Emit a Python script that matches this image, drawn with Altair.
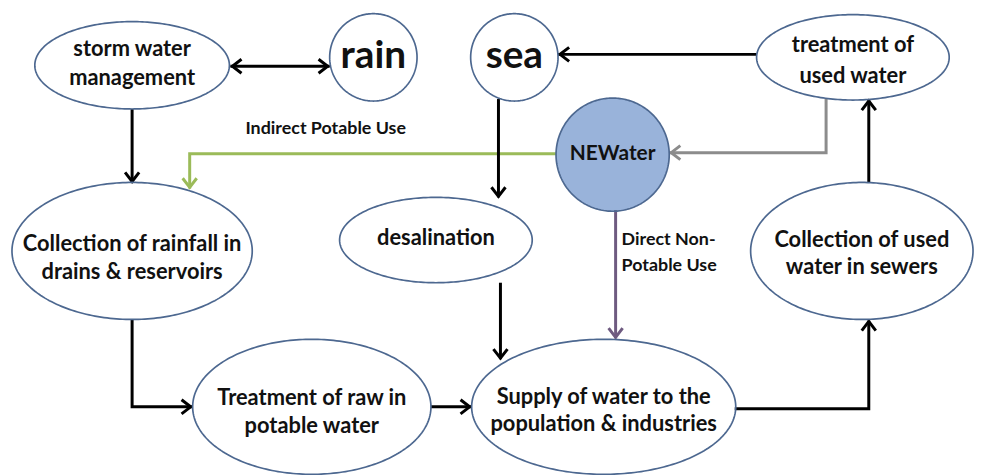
import altair as alt
import pandas as pd
import numpy as np

# ---- nodes (centre x, centre y, radius x, radius y) in picture pixels ----
node_names = ["storm", "rain", "sea", "treat_used", "newater", "coll_rain",
              "desal", "coll_used", "treat_raw", "supply"]
node_cx = [131, 374, 516, 857, 615, 131, 437, 866, 312, 606]
node_cy = [64, 56, 56, 56, 154, 251, 240, 251, 408, 408]
node_rx = [98, 44, 44, 97, 57, 121, 97, 112, 120, 133]
node_ry = [44, 44, 44, 43, 57, 69, 43, 69, 68, 68]

# filled node (NEWater)
fill_x = [615]
fill_y = [154]
fill_r = [57]
fill_color = "#99b3da"

# ---- node labels ----
label_text = ["storm water", "management", "rain", "sea", "treatment of", "used water",
              "NEWater", "Collection of rainfall in", "drains & reservoirs",
              "desalination", "Collection of used", "water in sewers",
              "Treatment of raw in", "potable water",
              "Supply of water to the", "population & industries"]
label_x = [131, 131, 374, 516, 857, 857, 615, 131, 131, 437, 866, 866, 312, 312, 606, 606]
label_y = [48, 77, 55, 55, 44, 75, 153, 244, 272, 238, 240, 267, 399, 427, 398, 425]
label_size = [22, 22, 39, 39, 22, 22, 21, 22, 22, 22, 22, 22, 22, 22, 22, 22]

# ---- edge annotations ----
note_text = ["Indirect Potable Use", "Direct Non-", "Potable Use"]
note_x = [326, 624, 624]
note_y = [128, 240, 266]
note_align = ["center", "left", "left"]
note_size = [18, 18, 18]

# ---- connectors (polylines) ----
edge_id = ["storm_rain", "storm_rain",
           "storm_coll", "storm_coll",
           "green", "green", "green",
           "sea_desal", "sea_desal",
           "used_sea", "used_sea",
           "gray", "gray", "gray",
           "purple", "purple",
           "sewer_used", "sewer_used",
           "desal_supply", "desal_supply",
           "rain_raw", "rain_raw", "rain_raw",
           "raw_supply", "raw_supply",
           "supply_sewer", "supply_sewer", "supply_sewer"]
edge_x = [230, 330,
          131, 131,
          558, 189, 189,
          500, 500,
          760, 560,
          830, 830, 672,
          618, 618,
          873, 873,
          502, 502,
          131, 131, 192,
          432, 473,
          738, 873, 873]
edge_y = [65, 65,
          108, 182,
          153, 153, 188,
          98, 197,
          53, 53,
          98, 152, 152,
          210, 339,
          182, 99,
          283, 360,
          320, 408, 408,
          408, 408,
          410, 410, 321]
edge_color = {"green": "#9bbb59", "gray": "#8c8c8c", "purple": "#6e5a80"}

# ---- arrow heads (tip position and direction in degrees, 0 = right) ----
head_x = [232, 328, 131, 189, 500, 562, 674, 618, 873, 502, 190, 471, 873]
head_y = [65, 65, 181, 187, 196, 53, 152, 338, 100, 359, 408, 408, 322]
head_angle = [180, 0, 90, 90, 90, 180, 180, 90, 270, 90, 0, 0, 270]
head_color = ["black", "black", "black", "#9bbb59", "black", "black", "#8c8c8c",
              "#6e5a80", "black", "black", "black", "black", "black"]

# ---------------- build tables ----------------
t = np.linspace(0, 2 * np.pi, 241)
rows = []
for n, cx, cy, rx, ry in zip(node_names, node_cx, node_cy, node_rx, node_ry):
    for k, tt in enumerate(t):
        rows.append({"node": n, "k": k, "x": cx + rx * np.cos(tt), "y": cy + ry * np.sin(tt)})
ell = pd.DataFrame(rows)

fills = pd.DataFrame({"x": fill_x, "y": fill_y, "size": [(2 * r) ** 2 for r in fill_r]})

edges = pd.DataFrame({"edge": edge_id, "x": edge_x, "y": edge_y})
edges["seq"] = edges.groupby("edge").cumcount()
edges["color"] = edges["edge"].map(lambda e: edge_color.get(e, "black"))

heads = pd.DataFrame({"x": head_x, "y": head_y, "angle": head_angle, "color": head_color})
labels = pd.DataFrame({"text": label_text, "x": label_x, "y": label_y, "size": label_size})
notes = pd.DataFrame({"text": note_text, "x": note_x, "y": note_y, "align": note_align,
                      "size": note_size})

W, H = 969, 459
xs = alt.Scale(domain=[8, 8 + W], nice=False, zero=False)
ys = alt.Scale(domain=[8, 8 + H], reverse=True, nice=False, zero=False)
X = lambda f="x": alt.X(f + ":Q", scale=xs, axis=None)
Y = lambda f="y": alt.Y(f + ":Q", scale=ys, axis=None)

fill_layer = alt.Chart(fills).mark_point(shape="circle", filled=True, fill=fill_color,
                                         opacity=1, strokeWidth=0).encode(
    x=X(), y=Y(), size=alt.Size("size:Q", scale=None))

lines = alt.Chart(edges).mark_line(strokeWidth=3, strokeJoin="miter", strokeCap="butt").encode(
    x=X(), y=Y(), detail="edge:N", order="seq:Q",
    color=alt.Color("color:N", scale=None))

ellipses = alt.Chart(ell).mark_line(color="#4d6890", strokeWidth=1.7, interpolate="linear").encode(
    x=X(), y=Y(), detail="node:N", order="k:Q")

arrow = "M -1.3 -1 L 0 0 L -1.3 1"
heads_layer = alt.Chart(heads).mark_point(shape=arrow, filled=False, strokeWidth=3, size=200,
                                          opacity=1).encode(
    x=X(), y=Y(), angle=alt.Angle("angle:Q", scale=None),
    stroke=alt.Stroke("color:N", scale=None))

label_layer = alt.Chart(labels).mark_text(font="Lato", fontWeight="bold", color="#111",
                                          baseline="middle", align="center").encode(
    x=X(), y=Y(), text="text:N", size=alt.Size("size:Q", scale=None))

notes_c = alt.Chart(notes[notes["align"] == "center"]).mark_text(
    font="Lato", fontWeight="bold", color="#111", baseline="middle",
    align="center").encode(x=X(), y=Y(), text="text:N", size=alt.Size("size:Q", scale=None))
notes_l = alt.Chart(notes[notes["align"] == "left"]).mark_text(
    font="Lato", fontWeight="bold", color="#111", baseline="middle",
    align="left").encode(x=X(), y=Y(), text="text:N", size=alt.Size("size:Q", scale=None))

chart = alt.layer(fill_layer, lines, heads_layer, ellipses, label_layer, notes_c, notes_l).properties(
    width=W, height=H, padding=0, background="white"
).configure_view(strokeWidth=0)

chart.save("out.html", embed_options={"renderer": "svg", "actions": False})
